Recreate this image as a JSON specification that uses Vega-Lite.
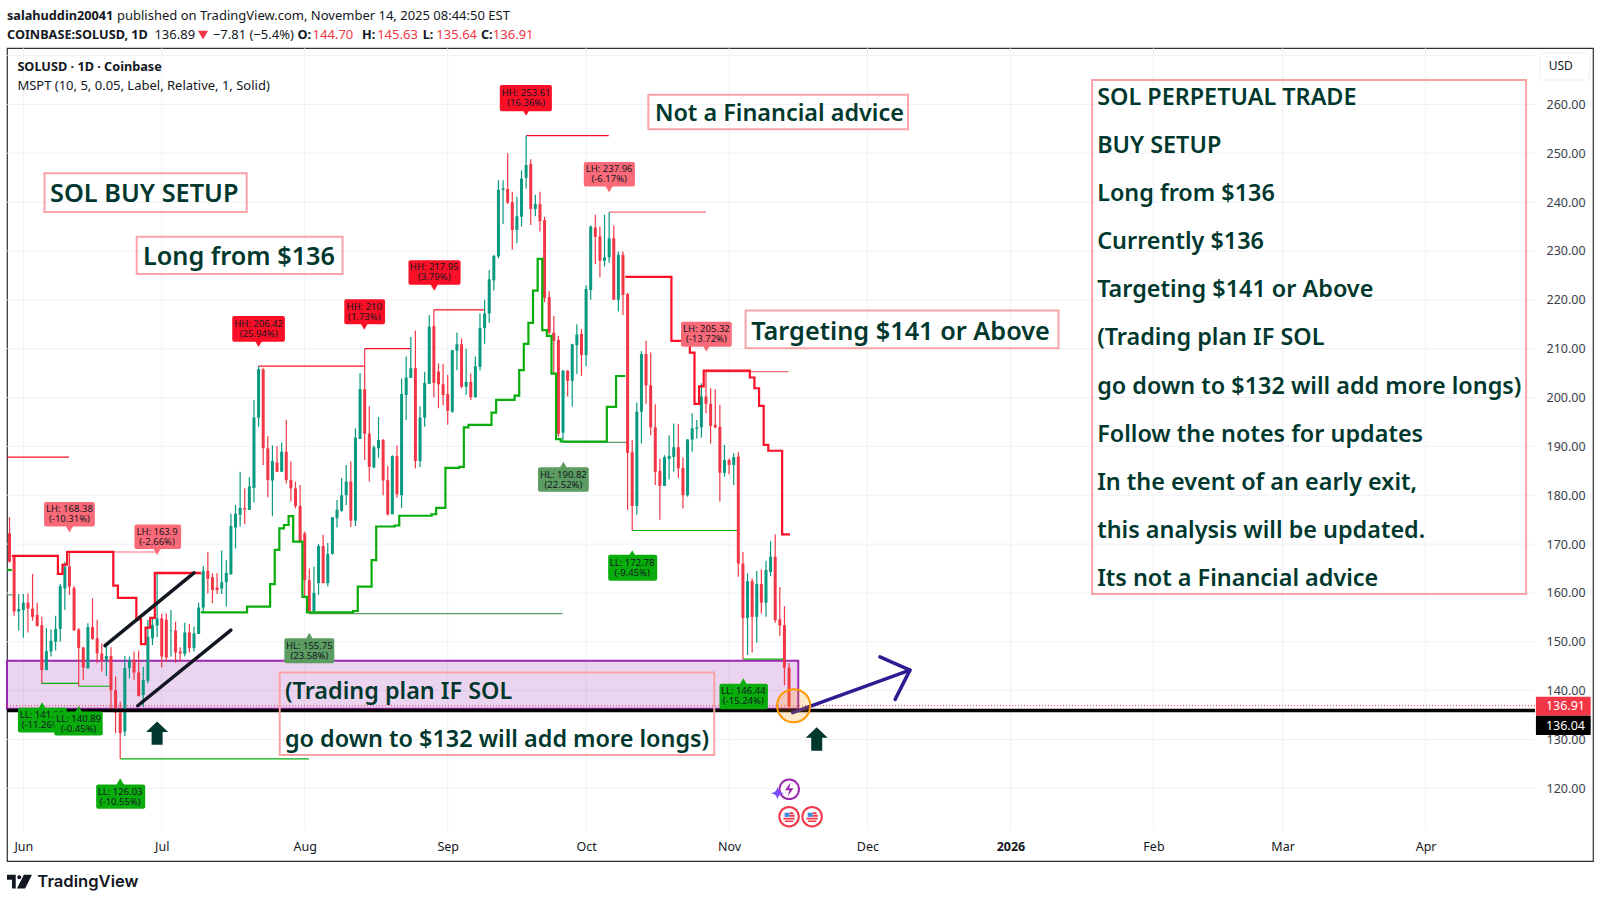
{
"$schema":"https://vega.github.io/schema/vega-lite/v6.json",
"description":"SOLUSD 1D candles with MSPT pivots and buy setup notes",
"width":1586,"height":813,
"autosize":{"type":"none"},
"padding":{"left":7,"top":48,"right":8,"bottom":41},
"background":"#ffffff",
"config":{"font":"Noto Sans","view":{"stroke":"#2a2e39","strokeWidth":1.2}},
"resolve":{"scale":{"color":"independent","shape":"independent","size":"independent"}},
"datasets":{
"gridV":[
{"date":"2025-06-01T00:00:00Z","price":111.46,"top":271.5},
{"date":"2025-07-01T00:00:00Z","price":111.46,"top":271.5},
{"date":"2025-08-01T00:00:00Z","price":111.46,"top":271.5},
{"date":"2025-09-01T00:00:00Z","price":111.46,"top":271.5},
{"date":"2025-10-01T00:00:00Z","price":111.46,"top":271.5},
{"date":"2025-11-01T00:00:00Z","price":111.46,"top":271.5},
{"date":"2025-12-01T00:00:00Z","price":111.46,"top":271.5},
{"date":"2026-01-01T00:00:00Z","price":111.46,"top":271.5},
{"date":"2026-02-01T00:00:00Z","price":111.46,"top":271.5},
{"date":"2026-03-01T00:00:00Z","price":111.46,"top":271.5},
{"date":"2026-04-01T00:00:00Z","price":111.46,"top":271.5}],
"gridH":[
{"date":"2025-05-28T12:00:00Z","end":"2026-04-24T17:00:00Z","price":120},
{"date":"2025-05-28T12:00:00Z","end":"2026-04-24T17:00:00Z","price":130},
{"date":"2025-05-28T12:00:00Z","end":"2026-04-24T17:00:00Z","price":140},
{"date":"2025-05-28T12:00:00Z","end":"2026-04-24T17:00:00Z","price":150},
{"date":"2025-05-28T12:00:00Z","end":"2026-04-24T17:00:00Z","price":160},
{"date":"2025-05-28T12:00:00Z","end":"2026-04-24T17:00:00Z","price":170},
{"date":"2025-05-28T12:00:00Z","end":"2026-04-24T17:00:00Z","price":180},
{"date":"2025-05-28T12:00:00Z","end":"2026-04-24T17:00:00Z","price":190},
{"date":"2025-05-28T12:00:00Z","end":"2026-04-24T17:00:00Z","price":200},
{"date":"2025-05-28T12:00:00Z","end":"2026-04-24T17:00:00Z","price":210},
{"date":"2025-05-28T12:00:00Z","end":"2026-04-24T17:00:00Z","price":220},
{"date":"2025-05-28T12:00:00Z","end":"2026-04-24T17:00:00Z","price":230},
{"date":"2025-05-28T12:00:00Z","end":"2026-04-24T17:00:00Z","price":240},
{"date":"2025-05-28T12:00:00Z","end":"2026-04-24T17:00:00Z","price":250},
{"date":"2025-05-28T12:00:00Z","end":"2026-04-24T17:00:00Z","price":260},
{"date":"2025-05-28T12:00:00Z","end":"2026-04-24T17:00:00Z","price":270}],
"zone":[{"date":"2025-05-28T11:00:00Z","end":"2025-11-16T00:00:00Z","price":136.3,"top":146.1}],
"pivots":[
{"date":"2025-05-28T12:00:00Z","end":"2025-06-10T22:00:00Z","price":187.8,"tone":"hh"},
{"date":"2025-05-28T12:00:00Z","end":"2025-05-29T17:00:00Z","price":159.6,"tone":"hl"},
{"date":"2025-07-22T00:00:00Z","end":"2025-08-13T22:00:00Z","price":206.42,"tone":"hh"},
{"date":"2025-08-14T00:00:00Z","end":"2025-08-24T00:00:00Z","price":210,"tone":"hh"},
{"date":"2025-08-29T00:00:00Z","end":"2025-09-09T00:00:00Z","price":217.95,"tone":"hh"},
{"date":"2025-09-18T00:00:00Z","end":"2025-10-05T22:00:00Z","price":253.61,"tone":"hh"},
{"date":"2025-10-06T00:00:00Z","end":"2025-10-27T00:00:00Z","price":237.96,"tone":"lh"},
{"date":"2025-10-27T00:00:00Z","end":"2025-11-13T22:00:00Z","price":205.32,"tone":"lh"},
{"date":"2025-06-10T22:00:00Z","end":"2025-06-29T22:00:00Z","price":168.38,"tone":"lh"},
{"date":"2025-06-30T00:00:00Z","end":"2025-07-10T00:00:00Z","price":163.9,"tone":"lh"},
{"date":"2025-06-05T00:00:00Z","end":"2025-06-13T00:00:00Z","price":141.5,"tone":"ll"},
{"date":"2025-06-13T00:00:00Z","end":"2025-06-19T22:00:00Z","price":140.89,"tone":"ll"},
{"date":"2025-06-22T00:00:00Z","end":"2025-08-01T22:00:00Z","price":126.03,"tone":"ll"},
{"date":"2025-08-02T00:00:00Z","end":"2025-09-25T22:00:00Z","price":155.75,"tone":"hl"},
{"date":"2025-09-26T00:00:00Z","end":"2025-10-09T19:00:00Z","price":190.82,"tone":"hl"},
{"date":"2025-10-11T00:00:00Z","end":"2025-11-02T19:00:00Z","price":172.78,"tone":"ll"},
{"date":"2025-11-04T00:00:00Z","end":"2025-11-12T17:00:00Z","price":146.44,"tone":"ll"}],
"candles":[
{"date":"2025-05-29","open":172.2,"high":175.5,"low":166.2,"close":166.4},
{"date":"2025-05-30","open":167.6,"high":167.6,"low":155.3,"close":156.2},
{"date":"2025-05-31","open":156.2,"high":159.8,"low":152.3,"close":156.7},
{"date":"2025-06-01","open":156.5,"high":159.8,"low":150.8,"close":158},
{"date":"2025-06-02","open":158,"high":159.9,"low":151.9,"close":156.8},
{"date":"2025-06-03","open":156.8,"high":163.9,"low":154.3,"close":155.1},
{"date":"2025-06-04","open":155.5,"high":158,"low":153.2,"close":153.2},
{"date":"2025-06-05","open":153.4,"high":155.1,"low":141.5,"close":144.2},
{"date":"2025-06-06","open":144.2,"high":152.8,"low":144.2,"close":148.1},
{"date":"2025-06-07","open":148,"high":152.5,"low":147,"close":150.2},
{"date":"2025-06-08","open":150,"high":155.3,"low":148.2,"close":152.6},
{"date":"2025-06-09","open":152.6,"high":161.8,"low":150,"close":161.4},
{"date":"2025-06-10","open":160.9,"high":166.4,"low":156.5,"close":165.4},
{"date":"2025-06-11","open":165.4,"high":168.38,"low":159.6,"close":161.3},
{"date":"2025-06-12","open":161,"high":161.4,"low":152.3,"close":152.3},
{"date":"2025-06-13","open":152.5,"high":152.8,"low":140.89,"close":148.7},
{"date":"2025-06-14","open":148.8,"high":149,"low":142.2,"close":144.7},
{"date":"2025-06-15","open":144.6,"high":153.8,"low":144.4,"close":153},
{"date":"2025-06-16","open":153,"high":158.9,"low":150.4,"close":150.6},
{"date":"2025-06-17","open":150.7,"high":154.5,"low":145.6,"close":147.6},
{"date":"2025-06-18","open":147.6,"high":149.7,"low":143.9,"close":146.1},
{"date":"2025-06-19","open":146.3,"high":149.1,"low":143,"close":147.1},
{"date":"2025-06-20","open":147.1,"high":148.9,"low":136,"close":140.1},
{"date":"2025-06-21","open":140.1,"high":142.9,"low":131.3,"close":135.5},
{"date":"2025-06-22","open":135.5,"high":137.7,"low":126.03,"close":131.3},
{"date":"2025-06-23","open":131.6,"high":147.1,"low":130.7,"close":144.6},
{"date":"2025-06-24","open":144.6,"high":147,"low":142.5,"close":146.1},
{"date":"2025-06-25","open":146.3,"high":148,"low":142.2,"close":143.7},
{"date":"2025-06-26","open":143.7,"high":148.2,"low":138.8,"close":138.9},
{"date":"2025-06-27","open":139.1,"high":144.9,"low":136.7,"close":142.2},
{"date":"2025-06-28","open":142,"high":154.5,"low":141.5,"close":151},
{"date":"2025-06-29","open":150.7,"high":154.9,"low":149.3,"close":153.4},
{"date":"2025-06-30","open":153.3,"high":163.9,"low":151,"close":154.8},
{"date":"2025-07-01","open":154.8,"high":155.7,"low":144.8,"close":147},
{"date":"2025-07-02","open":154.5,"high":155.8,"low":145.9,"close":146.8},
{"date":"2025-07-03","open":152.3,"high":156.5,"low":147,"close":152.4},
{"date":"2025-07-04","open":152.3,"high":154.1,"low":145.7,"close":147.8},
{"date":"2025-07-05","open":148,"high":148.9,"low":145.9,"close":147.6},
{"date":"2025-07-06","open":147.5,"high":153.9,"low":147,"close":151.9},
{"date":"2025-07-07","open":151.9,"high":153.6,"low":147.8,"close":148.7},
{"date":"2025-07-08","open":148.7,"high":153.1,"low":148,"close":151.7},
{"date":"2025-07-09","open":151.6,"high":158,"low":151.6,"close":157},
{"date":"2025-07-10","open":157,"high":165.5,"low":156,"close":164.5},
{"date":"2025-07-11","open":164.5,"high":168.3,"low":159.9,"close":162.9},
{"date":"2025-07-12","open":163.2,"high":164,"low":157.9,"close":160.6},
{"date":"2025-07-13","open":161.1,"high":164,"low":159.8,"close":160.6},
{"date":"2025-07-14","open":160.9,"high":168.7,"low":159.8,"close":162.2},
{"date":"2025-07-15","open":162.2,"high":166.7,"low":157.2,"close":164.1},
{"date":"2025-07-16","open":163.8,"high":176.2,"low":163.7,"close":173.7},
{"date":"2025-07-17","open":173.4,"high":178,"low":169.1,"close":176.2},
{"date":"2025-07-18","open":176,"high":184.8,"low":173.6,"close":177.4},
{"date":"2025-07-19","open":177.4,"high":181.4,"low":174.1,"close":177.1},
{"date":"2025-07-20","open":177,"high":183.7,"low":177,"close":181.8},
{"date":"2025-07-21","open":181.5,"high":199.5,"low":178.5,"close":195.9},
{"date":"2025-07-22","open":195.9,"high":206.42,"low":194,"close":205.8},
{"date":"2025-07-23","open":205.8,"high":206,"low":186.2,"close":189.6},
{"date":"2025-07-24","open":189.6,"high":192.1,"low":179.6,"close":183.1},
{"date":"2025-07-25","open":183,"high":190.2,"low":175.7,"close":187},
{"date":"2025-07-26","open":186.7,"high":190,"low":184.8,"close":184.8},
{"date":"2025-07-27","open":184.8,"high":190.8,"low":184.8,"close":188.9},
{"date":"2025-07-28","open":188.9,"high":195.4,"low":182.4,"close":183.1},
{"date":"2025-07-29","open":183.1,"high":186.9,"low":178.7,"close":181.4},
{"date":"2025-07-30","open":181.4,"high":182.8,"low":177.3,"close":177.8},
{"date":"2025-07-31","open":177.8,"high":182.1,"low":170.2,"close":170.5},
{"date":"2025-08-01","open":172.2,"high":172.5,"low":159,"close":162.6},
{"date":"2025-08-02","open":162.6,"high":165,"low":155.75,"close":156.2},
{"date":"2025-08-03","open":156.2,"high":165.4,"low":156.2,"close":160},
{"date":"2025-08-04","open":162,"high":170,"low":159.6,"close":169.6},
{"date":"2025-08-05","open":169.6,"high":171.9,"low":162,"close":162},
{"date":"2025-08-06","open":162,"high":170.2,"low":161.3,"close":168},
{"date":"2025-08-07","open":168,"high":175.5,"low":167.8,"close":175.5},
{"date":"2025-08-08","open":175.3,"high":179,"low":173.4,"close":177},
{"date":"2025-08-09","open":176.8,"high":183.5,"low":176.6,"close":180},
{"date":"2025-08-10","open":180,"high":186.2,"low":178,"close":182.8},
{"date":"2025-08-11","open":182.8,"high":186.9,"low":173.5,"close":174.8},
{"date":"2025-08-12","open":174.8,"high":193.7,"low":173.7,"close":191.8},
{"date":"2025-08-13","open":191.5,"high":205,"low":191.5,"close":201.7},
{"date":"2025-08-14","open":201.7,"high":210,"low":187.2,"close":192.6},
{"date":"2025-08-15","open":192.6,"high":198.2,"low":182.8,"close":185.8},
{"date":"2025-08-16","open":185.7,"high":190.2,"low":185.5,"close":189.8},
{"date":"2025-08-17","open":189.6,"high":196,"low":187.7,"close":191.3},
{"date":"2025-08-18","open":191.3,"high":191.5,"low":180,"close":183},
{"date":"2025-08-19","open":183.1,"high":186,"low":175.8,"close":176.1},
{"date":"2025-08-20","open":176.1,"high":188.2,"low":176.1,"close":188},
{"date":"2025-08-21","open":188,"high":190.2,"low":179.5,"close":180.2},
{"date":"2025-08-22","open":180,"high":203.9,"low":177.4,"close":200.7},
{"date":"2025-08-23","open":200.5,"high":208.4,"low":195.4,"close":204.1},
{"date":"2025-08-24","open":204,"high":212.4,"low":204,"close":206},
{"date":"2025-08-25","open":206,"high":213.7,"low":185.5,"close":187},
{"date":"2025-08-26","open":187,"high":198.2,"low":185.8,"close":195.9},
{"date":"2025-08-27","open":195.9,"high":205.3,"low":194,"close":203},
{"date":"2025-08-28","open":202.8,"high":216.9,"low":202.8,"close":214.5},
{"date":"2025-08-29","open":214.6,"high":217.95,"low":200,"close":203},
{"date":"2025-08-30","open":205.3,"high":207,"low":197.8,"close":202.7},
{"date":"2025-08-31","open":202.7,"high":206.9,"low":198.4,"close":200.5},
{"date":"2025-09-01","open":200.7,"high":204.6,"low":194.4,"close":197.3},
{"date":"2025-09-02","open":197.1,"high":209.7,"low":196.9,"close":209.7},
{"date":"2025-09-03","open":209.6,"high":213.3,"low":205.6,"close":210.9},
{"date":"2025-09-04","open":210.9,"high":212.1,"low":201.9,"close":202.2},
{"date":"2025-09-05","open":202.2,"high":210,"low":200.5,"close":203.2},
{"date":"2025-09-06","open":203.2,"high":204.9,"low":199.5,"close":200.1},
{"date":"2025-09-07","open":200.1,"high":208.4,"low":199.9,"close":206.4},
{"date":"2025-09-08","open":206.3,"high":217.2,"low":205.6,"close":214.2},
{"date":"2025-09-09","open":214.2,"high":220,"low":211,"close":217.2},
{"date":"2025-09-10","open":217.2,"high":226.1,"low":215.3,"close":224.2},
{"date":"2025-09-11","open":224,"high":229.2,"low":221.9,"close":229},
{"date":"2025-09-12","open":228.9,"high":244.5,"low":228.5,"close":242.5},
{"date":"2025-09-13","open":242.5,"high":244.5,"low":235.5,"close":242.8},
{"date":"2025-09-14","open":242.7,"high":250,"low":239.6,"close":239.9},
{"date":"2025-09-15","open":240,"high":242.1,"low":230.3,"close":234.3},
{"date":"2025-09-16","open":234.3,"high":241.1,"low":231.6,"close":237.1},
{"date":"2025-09-17","open":237,"high":246.5,"low":235,"close":244.8},
{"date":"2025-09-18","open":245,"high":253.61,"low":242.8,"close":247.6},
{"date":"2025-09-19","open":247.8,"high":248.8,"low":235.3,"close":238.6},
{"date":"2025-09-20","open":238.6,"high":241.5,"low":237.1,"close":239.6},
{"date":"2025-09-21","open":239.6,"high":242.1,"low":234,"close":236.1},
{"date":"2025-09-22","open":236.3,"high":237,"low":219.5,"close":220.4},
{"date":"2025-09-23","open":220.6,"high":221.8,"low":213,"close":213.3},
{"date":"2025-09-24","open":213.3,"high":216.7,"low":205,"close":211.6},
{"date":"2025-09-25","open":211.8,"high":212.6,"low":192,"close":192.6},
{"date":"2025-09-26","open":192.8,"high":205.6,"low":190.82,"close":205.5},
{"date":"2025-09-27","open":205.5,"high":205.6,"low":200.2,"close":203.4},
{"date":"2025-09-28","open":203.4,"high":211,"low":198.1,"close":210.9},
{"date":"2025-09-29","open":210.7,"high":215,"low":204.8,"close":212.9},
{"date":"2025-09-30","open":213,"high":214,"low":204.4,"close":208.7},
{"date":"2025-10-01","open":208.7,"high":223,"low":206.4,"close":222.2},
{"date":"2025-10-02","open":222,"high":235.2,"low":220,"close":235},
{"date":"2025-10-03","open":234.8,"high":237.4,"low":227.3,"close":232.9},
{"date":"2025-10-04","open":233,"high":235,"low":224.6,"close":228},
{"date":"2025-10-05","open":228,"high":237.4,"low":226.8,"close":228.7},
{"date":"2025-10-06","open":228.7,"high":237.96,"low":227.6,"close":232.6},
{"date":"2025-10-07","open":232.6,"high":235.2,"low":220,"close":220},
{"date":"2025-10-08","open":220,"high":229.9,"low":217.6,"close":229.2},
{"date":"2025-10-09","open":229.2,"high":229.9,"low":216.9,"close":221},
{"date":"2025-10-10","open":221.2,"high":221.4,"low":177,"close":188.7},
{"date":"2025-10-11","open":188.8,"high":191.3,"low":172.78,"close":177.8},
{"date":"2025-10-12","open":177.8,"high":199,"low":176,"close":197.1},
{"date":"2025-10-13","open":197.1,"high":209.5,"low":190.6,"close":208.9},
{"date":"2025-10-14","open":208.9,"high":211.6,"low":198.7,"close":202.5},
{"date":"2025-10-15","open":202.5,"high":209.2,"low":192.3,"close":193.9},
{"date":"2025-10-16","open":193.9,"high":198.6,"low":182.1,"close":184.8},
{"date":"2025-10-17","open":185,"high":187.5,"low":175,"close":181.9},
{"date":"2025-10-18","open":181.9,"high":188.2,"low":181.9,"close":187.8},
{"date":"2025-10-19","open":187.4,"high":192.3,"low":183.2,"close":188},
{"date":"2025-10-20","open":187.8,"high":194.7,"low":184.8,"close":189.8},
{"date":"2025-10-21","open":189.8,"high":194.6,"low":183.5,"close":185.5},
{"date":"2025-10-22","open":185.6,"high":187.7,"low":177.3,"close":180},
{"date":"2025-10-23","open":180,"high":191.5,"low":179.7,"close":191.4},
{"date":"2025-10-24","open":191.4,"high":196.8,"low":188.9,"close":193.7},
{"date":"2025-10-25","open":193.6,"high":195.4,"low":191.6,"close":193.9},
{"date":"2025-10-26","open":193.9,"high":202.9,"low":191.8,"close":200.2},
{"date":"2025-10-27","open":200.2,"high":205.32,"low":196.8,"close":198.7},
{"date":"2025-10-28","open":198.7,"high":201.9,"low":190.6,"close":194.2},
{"date":"2025-10-29","open":194.4,"high":201.7,"low":193.7,"close":193.9},
{"date":"2025-10-30","open":194,"high":198.5,"low":178.7,"close":184.6},
{"date":"2025-10-31","open":184.6,"high":190.3,"low":183.8,"close":187.2},
{"date":"2025-11-01","open":187.2,"high":187.5,"low":184.3,"close":186.2},
{"date":"2025-11-02","open":186.2,"high":188.6,"low":182.1,"close":187.8},
{"date":"2025-11-03","open":187.9,"high":188.9,"low":163.3,"close":166},
{"date":"2025-11-04","open":166,"high":168.4,"low":146.44,"close":154.9},
{"date":"2025-11-05","open":154.9,"high":164,"low":147.3,"close":162.4},
{"date":"2025-11-06","open":162.4,"high":163,"low":147.8,"close":155.1},
{"date":"2025-11-07","open":155.1,"high":164.5,"low":149.8,"close":161.8},
{"date":"2025-11-08","open":161.8,"high":164.8,"low":155.8,"close":158},
{"date":"2025-11-09","open":158,"high":166.6,"low":155.1,"close":164.7},
{"date":"2025-11-10","open":164.3,"high":170.6,"low":163.4,"close":167.4},
{"date":"2025-11-11","open":167.4,"high":172,"low":153.9,"close":154.4},
{"date":"2025-11-12","open":154.6,"high":161.2,"low":151.2,"close":153.3},
{"date":"2025-11-13","open":153.4,"high":157.3,"low":141.1,"close":144.7},
{"date":"2025-11-14","open":144.7,"high":145.63,"low":135.64,"close":136.91}],
"stops":[
{"date":"2025-05-29T12:00:00Z","price":167.6,"series":"down1","tone":"down"},
{"date":"2025-06-08T12:00:00Z","price":163.9,"series":"down1","tone":"down"},
{"date":"2025-06-09T12:00:00Z","price":165.8,"series":"down1","tone":"down"},
{"date":"2025-06-10T12:00:00Z","price":168.4,"series":"down1","tone":"down"},
{"date":"2025-06-20T12:00:00Z","price":161.5,"series":"down1","tone":"down"},
{"date":"2025-06-21T12:00:00Z","price":159,"series":"down1","tone":"down"},
{"date":"2025-06-25T12:00:00Z","price":154.6,"series":"down1","tone":"down"},
{"date":"2025-06-26T12:00:00Z","price":149.5,"series":"down1","tone":"down"},
{"date":"2025-06-27T12:00:00Z","price":152.9,"series":"down1","tone":"down"},
{"date":"2025-06-28T12:00:00Z","price":154.9,"series":"down1","tone":"down"},
{"date":"2025-06-29T12:00:00Z","price":164.1,"series":"down1","tone":"down"},
{"date":"2025-07-09T12:00:00Z","price":164.1,"series":"down1","tone":"down"},
{"date":"2025-05-28T12:00:00Z","price":164.7,"series":"up1","tone":"up"},
{"date":"2025-05-29T12:00:00Z","price":164.7,"series":"up1","tone":"up"},
{"date":"2025-07-09T12:00:00Z","price":156,"series":"up2","tone":"up"},
{"date":"2025-07-19T12:00:00Z","price":157.2,"series":"up2","tone":"up"},
{"date":"2025-07-24T12:00:00Z","price":161.8,"series":"up2","tone":"up"},
{"date":"2025-07-25T12:00:00Z","price":168.8,"series":"up2","tone":"up"},
{"date":"2025-07-26T12:00:00Z","price":173.2,"series":"up2","tone":"up"},
{"date":"2025-07-27T12:00:00Z","price":173.9,"series":"up2","tone":"up"},
{"date":"2025-07-28T12:00:00Z","price":175.7,"series":"up2","tone":"up"},
{"date":"2025-07-29T12:00:00Z","price":170.5,"series":"up2","tone":"up"},
{"date":"2025-07-31T12:00:00Z","price":159.2,"series":"up2","tone":"up"},
{"date":"2025-08-01T12:00:00Z","price":156,"series":"up2","tone":"up"},
{"date":"2025-08-11T12:00:00Z","price":156.3,"series":"up2","tone":"up"},
{"date":"2025-08-12T12:00:00Z","price":161.3,"series":"up2","tone":"up"},
{"date":"2025-08-15T12:00:00Z","price":166.7,"series":"up2","tone":"up"},
{"date":"2025-08-16T12:00:00Z","price":173.6,"series":"up2","tone":"up"},
{"date":"2025-08-20T12:00:00Z","price":173.8,"series":"up2","tone":"up"},
{"date":"2025-08-21T12:00:00Z","price":175.8,"series":"up2","tone":"up"},
{"date":"2025-08-28T12:00:00Z","price":176.1,"series":"up2","tone":"up"},
{"date":"2025-08-29T12:00:00Z","price":177.4,"series":"up2","tone":"up"},
{"date":"2025-08-31T12:00:00Z","price":185.6,"series":"up2","tone":"up"},
{"date":"2025-09-03T12:00:00Z","price":185.8,"series":"up2","tone":"up"},
{"date":"2025-09-04T12:00:00Z","price":193.9,"series":"up2","tone":"up"},
{"date":"2025-09-05T12:00:00Z","price":194.4,"series":"up2","tone":"up"},
{"date":"2025-09-10T12:00:00Z","price":196.9,"series":"up2","tone":"up"},
{"date":"2025-09-11T12:00:00Z","price":199.5,"series":"up2","tone":"up"},
{"date":"2025-09-15T12:00:00Z","price":200.4,"series":"up2","tone":"up"},
{"date":"2025-09-16T12:00:00Z","price":205.6,"series":"up2","tone":"up"},
{"date":"2025-09-17T12:00:00Z","price":211,"series":"up2","tone":"up"},
{"date":"2025-09-18T12:00:00Z","price":215.3,"series":"up2","tone":"up"},
{"date":"2025-09-19T12:00:00Z","price":221.9,"series":"up2","tone":"up"},
{"date":"2025-09-20T12:00:00Z","price":228.4,"series":"up2","tone":"up"},
{"date":"2025-09-21T12:00:00Z","price":213.8,"series":"up2","tone":"up"},
{"date":"2025-09-22T12:00:00Z","price":212.6,"series":"up2","tone":"up"},
{"date":"2025-09-23T12:00:00Z","price":204.9,"series":"up2","tone":"up"},
{"date":"2025-09-24T12:00:00Z","price":191.5,"series":"up2","tone":"up"},
{"date":"2025-09-25T12:00:00Z","price":191,"series":"up2","tone":"up"},
{"date":"2025-10-05T12:00:00Z","price":198.1,"series":"up2","tone":"up"},
{"date":"2025-10-07T12:00:00Z","price":204.4,"series":"up2","tone":"up"},
{"date":"2025-10-09T12:00:00Z","price":204.4,"series":"up2","tone":"up"},
{"date":"2025-10-09T12:00:00Z","price":224.7,"series":"down2","tone":"down"},
{"date":"2025-10-19T12:00:00Z","price":211.6,"series":"down2","tone":"down"},
{"date":"2025-10-23T12:00:00Z","price":209.2,"series":"down2","tone":"down"},
{"date":"2025-10-24T12:00:00Z","price":198.7,"series":"down2","tone":"down"},
{"date":"2025-10-25T12:00:00Z","price":202.3,"series":"down2","tone":"down"},
{"date":"2025-10-26T12:00:00Z","price":205.5,"series":"down2","tone":"down"},
{"date":"2025-11-05T12:00:00Z","price":204.1,"series":"down2","tone":"down"},
{"date":"2025-11-06T12:00:00Z","price":201.9,"series":"down2","tone":"down"},
{"date":"2025-11-07T12:00:00Z","price":198.3,"series":"down2","tone":"down"},
{"date":"2025-11-08T12:00:00Z","price":190.3,"series":"down2","tone":"down"},
{"date":"2025-11-09T12:00:00Z","price":189.1,"series":"down2","tone":"down"},
{"date":"2025-11-12T12:00:00Z","price":172,"series":"down2","tone":"down"},
{"date":"2025-11-14T05:00:00Z","price":172,"series":"down2","tone":"down"}],
"levels":[{"date":"2025-05-28T11:00:00Z","end":"2026-04-24T17:00:00Z","price":135.95}],
"lastClose":[{"date":"2025-05-28T11:00:00Z","end":"2026-04-24T17:00:00Z","price":136.91}],
"drawings":[
{"date":"2025-06-18T17:00:00Z","price":149.2,"seq":1,"path":"channel top","tone":"black"},
{"date":"2025-07-08T00:00:00Z","price":164.1,"seq":2,"path":"channel top","tone":"black"},
{"date":"2025-06-25T19:00:00Z","price":136.9,"seq":1,"path":"channel bottom","tone":"black"},
{"date":"2025-07-16T00:00:00Z","price":152.4,"seq":2,"path":"channel bottom","tone":"black"},
{"date":"2025-11-14T19:00:00Z","price":135.5,"seq":1,"path":"plan shaft","tone":"plan"},
{"date":"2025-12-10T05:00:00Z","price":144.2,"seq":2,"path":"plan shaft","tone":"plan"},
{"date":"2025-12-03T17:00:00Z","price":146.9,"seq":1,"path":"plan head","tone":"plan"},
{"date":"2025-12-10T05:00:00Z","price":144.2,"seq":2,"path":"plan head","tone":"plan"},
{"date":"2025-12-07T00:00:00Z","price":138.2,"seq":3,"path":"plan head","tone":"plan"}],
"entry":[{"date":"2025-11-15T00:00:00Z","price":136.9}],
"labels":[
{"date":"2025-06-05T12:00:00Z","end":"2025-06-16T12:00:00Z","mid":"2025-06-11T00:00:00Z","price":173.6,"top":178.6,"tip":173.2,"center":176.1,"side":"down","tone":"lh","text":"LH: 168.38\n(-10.31%)"},
{"date":"2025-06-25T02:00:00Z","end":"2025-07-05T05:00:00Z","mid":"2025-06-30T00:00:00Z","price":169,"top":174,"tip":168.6,"center":171.5,"side":"down","tone":"lh","text":"LH: 163.9\n(-2.66%)"},
{"date":"2025-05-30T20:00:00Z","end":"2025-06-10T10:00:00Z","mid":"2025-06-05T02:00:00Z","price":131.4,"top":136.5,"tip":136.8,"center":133.95,"side":"up","tone":"ll","text":"LL: 141.52\n(-11.26%)"},
{"date":"2025-06-16T19:00:00Z","end":"2025-06-27T10:00:00Z","mid":"2025-06-22T00:00:00Z","price":115.8,"top":120.8,"tip":121.2,"center":118.3,"side":"up","tone":"ll","text":"LL: 126.03\n(-10.55%)"},
{"date":"2025-07-27T14:00:00Z","end":"2025-08-07T10:00:00Z","mid":"2025-08-02T00:00:00Z","price":145.6,"top":150.7,"tip":151,"center":148.15,"side":"up","tone":"hl","text":"HL: 155.75\n(23.58%)"},
{"date":"2025-07-16T07:00:00Z","end":"2025-07-27T17:00:00Z","mid":"2025-07-22T00:00:00Z","price":211.4,"top":216.7,"tip":211.2,"center":214.05,"side":"down","tone":"hh","text":"HH: 206.42\n(25.94%)"},
{"date":"2025-08-09T14:00:00Z","end":"2025-08-18T10:00:00Z","mid":"2025-08-13T22:00:00Z","price":215,"top":220.1,"tip":214.7,"center":217.55,"side":"down","tone":"hh","text":"HH: 210\n(1.73%)"},
{"date":"2025-08-23T12:00:00Z","end":"2025-09-03T19:00:00Z","mid":"2025-08-29T02:00:00Z","price":223.1,"top":228.1,"tip":222.7,"center":225.6,"side":"down","tone":"hh","text":"HH: 217.95\n(3.79%)"},
{"date":"2025-09-12T07:00:00Z","end":"2025-09-23T14:00:00Z","mid":"2025-09-18T00:00:00Z","price":258.6,"top":264,"tip":258.5,"center":261.3,"side":"down","tone":"hh","text":"HH: 253.61\n(16.36%)"},
{"date":"2025-09-30T12:00:00Z","end":"2025-10-11T14:00:00Z","mid":"2025-10-06T00:00:00Z","price":243.2,"top":248.2,"tip":242.8,"center":245.7,"side":"down","tone":"lh","text":"LH: 237.96\n(-6.17%)"},
{"date":"2025-09-20T14:00:00Z","end":"2025-10-01T14:00:00Z","mid":"2025-09-26T02:00:00Z","price":180.7,"top":185.7,"tip":186,"center":183.2,"side":"up","tone":"hl","text":"HL: 190.82\n(22.52%)"},
{"date":"2025-10-21T14:00:00Z","end":"2025-11-01T14:00:00Z","mid":"2025-10-27T02:00:00Z","price":210.4,"top":215.5,"tip":210.2,"center":212.95,"side":"down","tone":"lh","text":"LH: 205.32\n(-13.72%)"},
{"date":"2025-10-05T19:00:00Z","end":"2025-10-16T10:00:00Z","mid":"2025-10-11T00:00:00Z","price":162.5,"top":167.8,"tip":167.9,"center":165.15,"side":"up","tone":"ll","text":"LL: 172.78\n(-9.45%)"},
{"date":"2025-10-29T22:00:00Z","end":"2025-11-09T10:00:00Z","mid":"2025-11-04T02:00:00Z","price":136.2,"top":141.4,"tip":141.7,"center":138.8,"side":"up","tone":"ll","text":"LL: 146.44\n(-15.24%)"}],
"labelsTop":[
{"date":"2025-06-07T17:00:00Z","end":"2025-06-18T05:00:00Z","mid":"2025-06-13T00:00:00Z","price":130.8,"top":135.7,"tip":136,"center":133.25,"side":"up","tone":"ll","text":"LL: 140.89\n(-0.45%)"}],
"boxes":[
{"date":"2026-01-18T17:00:00Z","end":"2026-04-22T19:00:00Z","price":159.8,"top":265},
{"date":"2025-06-05T14:00:00Z","end":"2025-07-19T10:00:00Z","price":238,"top":245.9},
{"date":"2025-06-25T14:00:00Z","end":"2025-08-09T05:00:00Z","price":225.3,"top":232.9},
{"date":"2025-10-14T12:00:00Z","end":"2025-12-09T19:00:00Z","price":254.9,"top":262},
{"date":"2025-11-04T14:00:00Z","end":"2026-01-11T10:00:00Z","price":210.1,"top":217.8},
{"date":"2025-07-26T14:00:00Z","end":"2025-10-28T19:00:00Z","price":126.8,"top":143.7}],
"notes":[
{"date":"2026-01-19T19:00:00Z","price":261.72,"text":"SOL PERPETUAL TRADE"},
{"date":"2026-01-19T19:00:00Z","price":251.9,"text":"BUY SETUP"},
{"date":"2026-01-19T19:00:00Z","price":242.07,"text":"Long from $136"},
{"date":"2026-01-19T19:00:00Z","price":232.24,"text":"Currently $136"},
{"date":"2026-01-19T19:00:00Z","price":222.42,"text":"Targeting $141 or Above"},
{"date":"2026-01-19T19:00:00Z","price":212.59,"text":"(Trading plan IF SOL"},
{"date":"2026-01-19T19:00:00Z","price":202.56,"text":"go down to $132 will add more longs)"},
{"date":"2026-01-19T19:00:00Z","price":192.73,"text":"Follow the notes for updates"},
{"date":"2026-01-19T19:00:00Z","price":182.91,"text":"In the event of an early exit,"},
{"date":"2026-01-19T19:00:00Z","price":173.08,"text":"this analysis will be updated."},
{"date":"2026-01-19T19:00:00Z","price":163.25,"text":"Its not a Financial advice"},
{"date":"2025-10-15T22:00:00Z","price":258.4,"text":"Not a Financial advice"},
{"date":"2025-07-27T17:00:00Z","price":140.1,"text":"(Trading plan IF SOL"},
{"date":"2025-07-27T17:00:00Z","price":130.4,"text":"go down to $132 will add more longs)"}],
"notesLarge":[
{"date":"2025-06-06T19:00:00Z","price":242.07,"text":"SOL BUY SETUP"},
{"date":"2025-06-26T22:00:00Z","price":229,"text":"Long from $136"},
{"date":"2025-11-05T19:00:00Z","price":213.8,"text":"Targeting $141 or Above"}],
"upArrows":[{"date":"2025-06-30T00:00:00Z","price":131.3},{"date":"2025-11-20T00:00:00Z","price":130.1}],
"eventRings":[
{"date":"2025-11-14T01:00:00Z","price":119.8,"tone":"signal"},
{"date":"2025-11-14T00:00:00Z","price":114.2,"tone":"news"},
{"date":"2025-11-19T00:00:00Z","price":114.2,"tone":"news"}],
"eventGlyphs":[
{"date":"2025-11-14T01:00:00Z","price":119.8,"glyph":"bolt"},
{"date":"2025-11-11T12:00:00Z","price":119,"glyph":"star"},
{"date":"2025-11-14T00:00:00Z","price":114.2,"glyph":"stripes"},
{"date":"2025-11-14T00:00:00Z","price":114.2,"glyph":"canton"},
{"date":"2025-11-19T00:00:00Z","price":114.2,"glyph":"stripes"},
{"date":"2025-11-19T00:00:00Z","price":114.2,"glyph":"canton"}],
"priceTags":[
{"date":"2026-04-24T22:00:00Z","end":"2026-05-06T19:00:00Z","price":134.85,"top":138.75,"tone":"last"},
{"date":"2026-04-24T22:00:00Z","end":"2026-05-06T19:00:00Z","price":130.9,"top":134.85,"tone":"line"}],
"priceTagText":[
{"date":"2026-04-27T02:00:00Z","price":136.8,"text":"136.91"},
{"date":"2026-04-27T02:00:00Z","price":132.85,"text":"136.04"}],
"usdBox":[{"date":"2026-04-25T19:00:00Z","end":"2026-05-06T14:00:00Z","price":265,"top":270.5}],
"usdText":[{"date":"2026-04-30T07:00:00Z","price":267.9,"text":"USD"}],
"headerBold":[
{"date":"2025-05-28T11:00:00Z","price":278.16,"text":"salahuddin20041"},
{"date":"2025-05-28T11:00:00Z","price":274.2,"text":"COINBASE:SOLUSD, 1D"},
{"date":"2025-07-30T10:00:00Z","price":274.2,"text":"O:"},
{"date":"2025-08-13T10:00:00Z","price":274.2,"text":"H:"},
{"date":"2025-08-26T14:00:00Z","price":274.2,"text":"L:"},
{"date":"2025-09-08T05:00:00Z","price":274.2,"text":"C:"},
{"date":"2025-05-30T17:00:00Z","price":267.7,"text":"SOLUSD · 1D · Coinbase"}],
"headerPlain":[
{"date":"2025-06-21T07:00:00Z","price":278.16,"text":"published on TradingView.com, November 14, 2025 08:44:50 EST"},
{"date":"2025-06-29T10:00:00Z","price":274.2,"text":"136.89"},
{"date":"2025-07-12T02:00:00Z","price":274.2,"text":"−7.81 (−5.4%)"},
{"date":"2025-05-30T17:00:00Z","price":263.8,"text":"MSPT (10, 5, 0.05, Label, Relative, 1, Solid)"}],
"headerRed":[
{"date":"2025-08-02T17:00:00Z","price":274.2,"text":"144.70"},
{"date":"2025-08-16T17:00:00Z","price":274.2,"text":"145.63"},
{"date":"2025-08-29T13:00:00Z","price":274.2,"text":"135.64"},
{"date":"2025-09-10T19:00:00Z","price":274.2,"text":"136.91"}],
"caret":[{"date":"2025-07-09T23:00:00Z","price":274.2}],
"brandMark":[{"date":"2025-05-31T04:00:00Z","price":100.9}],
"brandText":[{"date":"2025-06-04T01:00:00Z","price":100.85,"text":"TradingView"}]
},
"encoding":{
"x":{"field":"date","type":"temporal","title":null,
"scale":{"type":"utc","nice":false,"padding":0,"domain":["2025-05-28T11:00:00Z","2026-05-07T07:00:00Z"]},
"axis":{"orient":"bottom","offset":-21,"domain":false,"ticks":false,"labelPadding":0,"zindex":1,"grid":false,
"values":["2025-06-01T00:00:00Z","2025-07-01T00:00:00Z","2025-08-01T00:00:00Z","2025-09-01T00:00:00Z","2025-10-01T00:00:00Z","2025-11-01T00:00:00Z","2025-12-01T00:00:00Z","2026-01-01T00:00:00Z","2026-02-01T00:00:00Z","2026-03-01T00:00:00Z","2026-04-01T00:00:00Z"],
"labelExpr":"utcmonth(datum.value)===0 ? '2026' : utcFormat(datum.value,'%b')",
"labelFontWeight":{"expr":"utcmonth(datum.value)===0 ? 700 : 400"},
"labelFont":"Noto Sans","labelFontSize":12.5,"labelColor":"#131722","labelOverlap":false,"labelFlush":false,"labelBound":false}},
"y":{"field":"price","type":"quantitative","title":null,
"scale":{"domain":[105.12,271.55],"nice":false,"zero":false},
"axis":{"orient":"right","offset":-47,"domain":false,"ticks":false,"labelPadding":0,"zindex":1,"grid":false,
"values":[120,130,140,150,160,170,180,190,200,210,220,230,240,250,260],
"format":".2f",
"labelFont":"Noto Sans","labelFontSize":12.5,"labelColor":"#3a3e49","labelOverlap":false,"labelFlush":false,"labelBound":false}}
},
"layer":[
{"data":{"name":"gridV"},"mark":{"type":"rule","strokeWidth":1,"color":"#f0f1f4"},"encoding":{"y2":{"field":"top"}}},
{"data":{"name":"gridH"},"mark":{"type":"rule","strokeWidth":1,"color":"#f0f1f4"},"encoding":{"x2":{"field":"end"}}},
{"data":{"name":"zone"},"mark":{"type":"rect","fill":"#9c27b0","fillOpacity":0.2,"stroke":"#9c27b0","strokeWidth":2},"encoding":{"x2":{"field":"end"},"y2":{"field":"top"}}},
{"data":{"name":"pivots"},"mark":{"type":"rule","strokeWidth":1.2},"encoding":{"x2":{"field":"end"},"color":{"field":"tone","type":"nominal","legend":null,"scale":{"domain":["hh","lh","ll","hl"],"range":["#fb0f26","#fb6a78","#08ad0c","#5c9c60"]}}}},
{"data":{"name":"candles"},"mark":{"type":"rule","strokeWidth":1.2},"encoding":{
"y":{"field":"low","type":"quantitative","scale":{"domain":[105.12,271.55],"nice":false,"zero":false}},"y2":{"field":"high"},
"color":{"condition":{"test":"datum.close>=datum.open","value":"#089981"},"value":"#f23645"}}},
{"data":{"name":"candles"},"mark":{"type":"bar","width":3},"encoding":{
"y":{"field":"open","type":"quantitative","scale":{"domain":[105.12,271.55],"nice":false,"zero":false}},"y2":{"field":"close"},
"color":{"condition":{"test":"datum.close>=datum.open","value":"#089981"},"value":"#f23645"}}},
{"data":{"name":"stops"},"mark":{"type":"line","interpolate":"step-after","strokeWidth":2.2},"encoding":{"detail":{"field":"series"},"color":{"field":"tone","type":"nominal","legend":null,"scale":{"domain":["down","up"],"range":["#fb0f26","#08ad0c"]}}}},
{"data":{"name":"levels"},"mark":{"type":"rule","strokeWidth":3.5,"color":"#000000"},"encoding":{"x2":{"field":"end"}}},
{"data":{"name":"lastClose"},"mark":{"type":"rule","strokeWidth":1,"strokeDash":[1,2],"color":"#f23645"},"encoding":{"x2":{"field":"end"}}},
{"data":{"name":"drawings"},"mark":{"type":"line","strokeWidth":3.5,"strokeCap":"round","strokeJoin":"round"},"encoding":{"detail":{"field":"path"},"order":{"field":"seq"},"color":{"field":"tone","type":"nominal","legend":null,"scale":{"domain":["black","plan"],"range":["#131722","#311b92"]}}}},
{"data":{"name":"entry"},"mark":{"type":"point","shape":"circle","filled":false,"size":1100,"fill":"#ff9800","fillOpacity":0.2,"stroke":"#ff9800","strokeWidth":2,"opacity":1}},
{"data":{"name":"labels"},"mark":{"type":"rect","cornerRadius":2},"encoding":{"x2":{"field":"end"},"y2":{"field":"top"},"color":{"field":"tone","type":"nominal","legend":null,"scale":{"domain":["hh","lh","ll","hl"],"range":["#fb0f26","#fb6a78","#08ad0c","#5c9c60"]}}}},
{"data":{"name":"labels"},"mark":{"type":"point","filled":true,"size":90,"opacity":1},"encoding":{"x":{"field":"mid","type":"temporal"},
"y":{"field":"tip","type":"quantitative"},
"shape":{"field":"side","type":"nominal","legend":null,"scale":{"domain":["up","down"],"range":["triangle-up","triangle-down"]}},
"color":{"field":"tone","type":"nominal","legend":null,"scale":{"domain":["hh","lh","ll","hl"],"range":["#fb0f26","#fb6a78","#08ad0c","#5c9c60"]}}}},
{"data":{"name":"labels"},"mark":{"type":"text","lineBreak":"\n","fontSize":9.5,"lineHeight":10,"dy":-5,"color":"#131722","baseline":"middle","align":"center"},"encoding":{"x":{"field":"mid","type":"temporal"},"y":{"field":"center","type":"quantitative"},"text":{"field":"text"}}},
{"data":{"name":"labelsTop"},"mark":{"type":"rect","cornerRadius":2,"color":"#08ad0c"},"encoding":{"x2":{"field":"end"},"y2":{"field":"top"}}},
{"data":{"name":"labelsTop"},"mark":{"type":"point","shape":"triangle-up","filled":true,"size":90,"opacity":1,"color":"#08ad0c"},"encoding":{"x":{"field":"mid","type":"temporal"},"y":{"field":"tip","type":"quantitative"}}},
{"data":{"name":"labelsTop"},"mark":{"type":"text","lineBreak":"\n","fontSize":9.5,"lineHeight":10,"dy":-5,"color":"#131722","baseline":"middle","align":"center"},"encoding":{"x":{"field":"mid","type":"temporal"},"y":{"field":"center","type":"quantitative"},"text":{"field":"text"}}},
{"data":{"name":"boxes"},"mark":{"type":"rect","fillOpacity":0,"stroke":"#f9a3a7","strokeWidth":2},"encoding":{"x2":{"field":"end"},"y2":{"field":"top"}}},
{"data":{"name":"notes"},"mark":{"type":"text","font":"Noto Sans","fontWeight":600,"fontSize":23.4,"dy":2,"color":"#00382e","align":"left","baseline":"middle"},"encoding":{"text":{"field":"text"}}},
{"data":{"name":"notesLarge"},"mark":{"type":"text","font":"Noto Sans","fontWeight":600,"fontSize":25.3,"dy":1.5,"color":"#00382e","align":"left","baseline":"middle"},"encoding":{"text":{"field":"text"}}},
{"data":{"name":"upArrows"},"mark":{"type":"point","shape":"M0,-1.06L1,-0.1H0.5V1.06H-0.5V-0.1H-1Z","filled":true,"size":484,"opacity":1,"color":"#00382e"}},
{"data":{"name":"eventRings"},"mark":{"type":"point","shape":"circle","filled":false,"fill":"#ffffff","fillOpacity":1,"size":380,"strokeWidth":2,"opacity":1},"encoding":{"stroke":{"field":"tone","type":"nominal","legend":null,"scale":{"domain":["signal","news"],"range":["#9c27b0","#f23645"]}}}},
{"data":{"name":"eventGlyphs"},"mark":{"type":"point","filled":true,"opacity":1},"encoding":{
"shape":{"field":"glyph","type":"nominal","legend":null,"scale":{"domain":["bolt","star","stripes","canton"],"range":["M0.2,-1L-0.6,0.15H0L-0.2,1L0.6,-0.15H0Z","M0,-1Q0.1,-0.1 1,0Q0.1,0.1 0,1Q-0.1,0.1 -1,0Q-0.1,-0.1 0,-1Z","M0.1,-0.75H0.75V-0.45H0.1ZM0.1,-0.3H0.95V0H0.1ZM-0.95,0.2H0.95V0.5H-0.95ZM-0.7,0.65H0.7V0.9H-0.7Z","M-0.85,-0.75H0.1V0.05H-0.85Z"]}},
"size":{"field":"glyph","type":"nominal","legend":null,"scale":{"domain":["bolt","star","stripes","canton"],"range":[200,110,400,400]}},
"color":{"field":"glyph","type":"nominal","legend":null,"scale":{"domain":["bolt","star","stripes","canton"],"range":["#9c27b0","#7c4dff","#f23645","#3d8bda"]}}}},
{"data":{"name":"priceTags"},"mark":{"type":"rect","cornerRadius":1},"encoding":{"x2":{"field":"end"},"y2":{"field":"top"},"color":{"field":"tone","type":"nominal","legend":null,"scale":{"domain":["last","line"],"range":["#f23645","#000000"]}}}},
{"data":{"name":"priceTagText"},"mark":{"type":"text","fontSize":12.5,"color":"#ffffff","align":"left","baseline":"middle"},"encoding":{"text":{"field":"text"}}},
{"data":{"name":"usdBox"},"mark":{"type":"rect","fill":"#ffffff","stroke":"#eeeff2","strokeWidth":1,"cornerRadius":3},"encoding":{"x2":{"field":"end"},"y2":{"field":"top"}}},
{"data":{"name":"usdText"},"mark":{"type":"text","fontSize":12,"color":"#131722","align":"center","baseline":"middle"},"encoding":{"text":{"field":"text"}}},
{"data":{"name":"headerBold"},"mark":{"type":"text","fontSize":12.7,"fontWeight":700,"color":"#131722","align":"left","baseline":"middle"},"encoding":{"text":{"field":"text"}}},
{"data":{"name":"headerPlain"},"mark":{"type":"text","fontSize":13,"color":"#131722","align":"left","baseline":"middle"},"encoding":{"text":{"field":"text"}}},
{"data":{"name":"headerRed"},"mark":{"type":"text","fontSize":13,"color":"#f23645","align":"left","baseline":"middle"},"encoding":{"text":{"field":"text"}}},
{"data":{"name":"caret"},"mark":{"type":"point","shape":"triangle-down","filled":true,"size":100,"opacity":1,"color":"#f23645"}},
{"data":{"name":"brandMark"},"mark":{"type":"point","shape":"M-1,-0.55H-0.3V0.55H-0.6V-0.14H-1ZM0.35,-0.55H1L0.45,0.55H-0.2ZM-0.18,-0.35A0.16,0.16 0 1 1 0.14,-0.35A0.16,0.16 0 1 1 -0.18,-0.35Z","filled":true,"size":625,"opacity":1,"color":"#131722"}},
{"data":{"name":"brandText"},"mark":{"type":"text","font":"Inter","fontSize":16.6,"fontWeight":600,"color":"#131722","align":"left","baseline":"middle"},"encoding":{"text":{"field":"text"}}}
]
}
